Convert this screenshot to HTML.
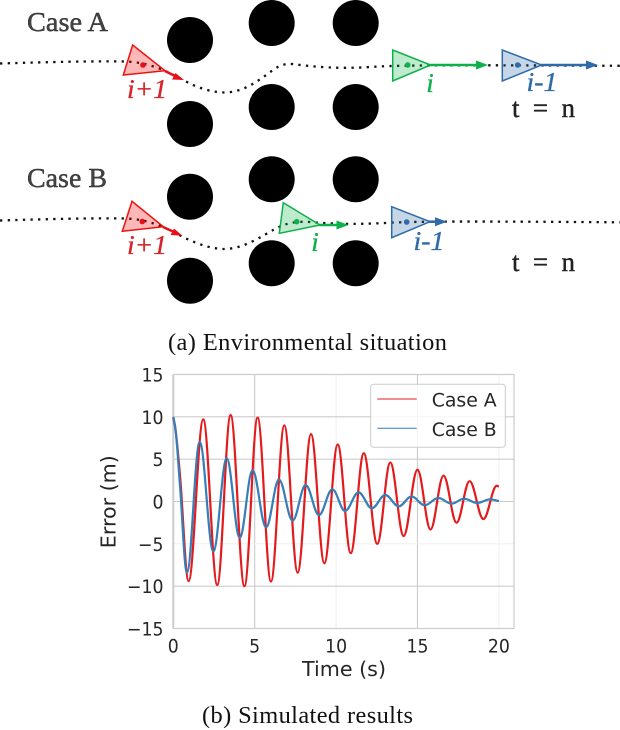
<!DOCTYPE html>
<html lang="en">
<head>
<meta charset="utf-8">
<title>Environmental situation and simulated results</title>
<style>
html,body{margin:0;padding:0;background:#fff;width:620px;height:730px;overflow:hidden}
svg{display:block;position:absolute;left:0;top:0}
.serif{font-family:"Liberation Serif",serif}
.sans{font-family:"DejaVu Sans",sans-serif}
.track{fill:none;stroke:#111;stroke-width:2.3;stroke-dasharray:2.3 5.3}
.label{font-family:"Liberation Serif",serif;font-style:italic;font-size:27px;text-anchor:middle;stroke-width:.35px}
.heading{fill:#444;stroke:#222;stroke-width:.4px}
</style>
</head>
<body>
<svg id="figure" width="620" height="730" viewBox="0 0 620 730" xmlns="http://www.w3.org/2000/svg">
  <g>
    <text class="serif heading" x="27" y="31" font-size="27" textLength="81" lengthAdjust="spacingAndGlyphs">Case A</text>
    <circle cx="190" cy="40" r="23"/>
    <circle cx="190" cy="124" r="23"/>
    <circle cx="271.7" cy="23" r="23"/>
    <circle cx="271.7" cy="107" r="23"/>
    <circle cx="355.7" cy="23" r="23"/>
    <circle cx="355.7" cy="107" r="23"/>
    <path class="track" d="M0 63.5C50 62 90 61 125 61.5C150 62 168 72 185 81C200 89 213 92.5 226 92.5C245 92 262 78 273 70C280 65 285 63.5 292 64C315 67 340 69 370 67C400 65 450 65 620 65.8"/>
    <g>
      <polygon points="132.7,45 123.3,75 165,70.7" fill="#f00" fill-opacity=".28" stroke="#f01010" stroke-width="1.5"/>
      <circle cx="143" cy="65" r="2.8" fill="#e8101a"/>
      <line x1="165" y1="71" x2="176" y2="76.5" stroke="#e8101a" stroke-width="2.5"/>
      <polygon points="184,80 172,79.5 175.5,73" fill="#e8101a"/>
      <text class="label" x="147" y="98" fill="#d8232a" stroke="#d8232a" textLength="40" lengthAdjust="spacingAndGlyphs">i+1</text>
    </g>
    <g>
      <polygon points="392.7,50 392.7,81 430.7,65" fill="#0db14b" fill-opacity=".27" stroke="#0db14b" stroke-width="1.5"/>
      <circle cx="407.7" cy="65" r="2.8" fill="#0db14b"/>
      <line x1="430" y1="65" x2="478" y2="65" stroke="#0db14b" stroke-width="2.6"/>
      <polygon points="488,65 476,60.5 476,69.5" fill="#0db14b"/>
      <text class="label" x="430" y="92" fill="#0db14b" stroke="#0db14b">i</text>
    </g>
    <g>
      <polygon points="502.3,50 502.3,81 541.7,65" fill="#2e6ba8" fill-opacity=".28" stroke="#2e6ba8" stroke-width="1.5"/>
      <circle cx="517.7" cy="65" r="2.8" fill="#2e6ba8"/>
      <line x1="541" y1="65" x2="588" y2="65" stroke="#2e6ba8" stroke-width="2.6"/>
      <polygon points="598,65 586,60.5 586,69.5" fill="#2e6ba8"/>
      <text class="label" x="542" y="91" fill="#2e6ba8" stroke="#2e6ba8" textLength="31" lengthAdjust="spacingAndGlyphs">i-1</text>
    </g>
    <text class="serif" x="512" y="117" font-size="27" fill="#222" stroke="#222" stroke-width=".4" textLength="63" lengthAdjust="spacing">t = n</text>
  </g>

  <g>
    <text class="serif heading" x="27" y="187" font-size="27" textLength="80" lengthAdjust="spacingAndGlyphs">Case B</text>
    <circle cx="190" cy="196.7" r="23"/>
    <circle cx="190" cy="280.7" r="23"/>
    <circle cx="271.7" cy="179.3" r="23"/>
    <circle cx="271.7" cy="263.3" r="23"/>
    <circle cx="355.7" cy="179.3" r="23"/>
    <circle cx="355.7" cy="263.3" r="23"/>
    <path class="track" d="M0 220.5C50 219 90 218 125 218.5C150 219 168 229 185 238C200 245 213 249.3 226 249C245 248 262 236 275 229C285 223.5 295 221 310 222C330 224 355 224.5 385 223C410 221.5 450 221 620 222.3"/>
    <g>
      <polygon points="132,201.3 122.3,231.3 163.3,226.7" fill="#f00" fill-opacity=".28" stroke="#f01010" stroke-width="1.5"/>
      <circle cx="142.3" cy="221.5" r="2.8" fill="#e8101a"/>
      <line x1="163" y1="227" x2="174" y2="232" stroke="#e8101a" stroke-width="2.5"/>
      <polygon points="182.5,235.8 170.5,235 174,228.5" fill="#e8101a"/>
      <text class="label" x="147" y="254" fill="#d8232a" stroke="#d8232a" textLength="40" lengthAdjust="spacingAndGlyphs">i+1</text>
    </g>
    <g>
      <polygon points="283.3,202.7 279.3,233.3 320,225" fill="#0db14b" fill-opacity=".27" stroke="#0db14b" stroke-width="1.5"/>
      <circle cx="296.7" cy="221.7" r="2.8" fill="#0db14b"/>
      <line x1="319" y1="225" x2="338" y2="225" stroke="#0db14b" stroke-width="2.6"/>
      <polygon points="348.5,225 336.5,220.5 336.5,229.5" fill="#0db14b"/>
      <text class="label" x="315" y="251" fill="#0db14b" stroke="#0db14b">i</text>
    </g>
    <g>
      <polygon points="391.7,206.7 391.7,237.7 430,221.7" fill="#2e6ba8" fill-opacity=".28" stroke="#2e6ba8" stroke-width="1.5"/>
      <circle cx="406.7" cy="222" r="2.8" fill="#2e6ba8"/>
      <line x1="429" y1="221.7" x2="438" y2="221.7" stroke="#2e6ba8" stroke-width="2.6"/>
      <polygon points="447,221.7 435,217.2 435,226.2" fill="#2e6ba8"/>
      <text class="label" x="429" y="250" fill="#2e6ba8" stroke="#2e6ba8" textLength="31" lengthAdjust="spacingAndGlyphs">i-1</text>
    </g>
    <text class="serif" x="512" y="271" font-size="27" fill="#222" stroke="#222" stroke-width=".4" textLength="63" lengthAdjust="spacing">t = n</text>
  </g>

  <text class="serif" x="168" y="350" font-size="24.4" fill="#111" textLength="279" lengthAdjust="spacing">(a) Environmental situation</text>
  <text class="serif" x="202" y="723" font-size="24.4" fill="#111" textLength="211" lengthAdjust="spacing">(b) Simulated results</text>

  <g id="chart"></g>
</svg>

<script>
const xTicks = [0, 5, 10, 15, 20];
const yTicks = [-15, -10, -5, 0, 5, 10, 15];
const xTickLabels = ['0', '5', '10', '15', '20'];
const yTickLabels = ['\u221215', '\u221210', '\u22125', '0', '5', '10', '15'];
const fadedXTicks = [10, 20];
const fadedYTicks = [-5];
const seriesNames = ['Case A', 'Case B'];
const caseATime = [0, 0.15, 0.41, 0.94, 1.84, 2.7, 3.52, 4.37, 5.18, 6.0, 6.82, 7.64, 8.46, 9.28, 10.1, 10.9, 11.7, 12.53, 13.33, 14.15, 15.0, 15.8, 16.6, 17.4, 18.2, 19.05, 19.87, 20];
const caseAError = [9.9, 8.3, 3.1, -9.4, 9.7, -9.85, 10.2, -10, 9.9, -9.45, 9.0, -8.4, 7.96, -7.3, 6.74, -6.1, 5.7, -5.0, 4.6, -4.07, 3.75, -3.3, 3.05, -2.5, 2.4, -2.07, 1.86, 1.75];
const caseBTime = [0, 0.15, 0.41, 0.84, 1.62, 2.46, 3.28, 4.08, 4.87, 5.7, 6.49, 7.33, 8.13, 8.95, 9.77, 10.55, 11.38, 12.2, 13.02, 13.85, 14.64, 15.44, 16.28, 17.1, 17.86, 18.68, 19.45, 20];
const caseBError = [10, 8.3, 1.9, -8.4, 7.05, -5.9, 5.1, -4.27, 3.67, -3.05, 2.6, -2.26, 1.95, -1.6, 1.44, -1.12, 1.08, -0.8, 0.77, -0.57, 0.6, -0.45, 0.41, -0.26, 0.33, -0.18, 0.26, 0.05];

const plotLeft = 173.3, plotRight = 514, plotTop = 374.5, plotBottom = 628.5;
const xDomainMax = 20.93, yDomainMax = 15, yDomainMin = -15;
const xScale = t => plotLeft + (t / xDomainMax) * (plotRight - plotLeft);
const yScale = v => plotBottom - ((v - yDomainMin) / (yDomainMax - yDomainMin)) * (plotBottom - plotTop);

const svgNS = 'http://www.w3.org/2000/svg';
const chart = document.getElementById('chart');
function make(tag, attrs, parent, text) {
  const el = document.createElementNS(svgNS, tag);
  for (const k in attrs) el.setAttribute(k, attrs[k]);
  if (text !== undefined) el.textContent = text;
  (parent || chart).appendChild(el);
  return el;
}
function squeeze(el, ratio) {
  el.setAttribute('textLength', (el.getComputedTextLength() * ratio).toFixed(2));
  el.setAttribute('lengthAdjust', 'spacingAndGlyphs');
}
function curvePath(ts, vs) {
  const n = ts.length, px = ts.map(xScale), py = vs.map(yScale), slope = [];
  for (let i = 0; i < n; i++) {
    if (i === 0) slope.push((py[1] - py[0]) / (px[1] - px[0]));
    else if (i === n - 1) slope.push((py[i] - py[i - 1]) / (px[i] - px[i - 1]));
    else {
      const a = (py[i] - py[i - 1]) / (px[i] - px[i - 1]);
      const b = (py[i + 1] - py[i]) / (px[i + 1] - px[i]);
      slope.push(a * b <= 0 ? 0 : (a + b) / 2);
    }
  }
  let d = 'M' + px[0].toFixed(2) + ' ' + py[0].toFixed(2);
  for (let i = 1; i < n; i++) {
    const h = (px[i] - px[i - 1]) * 0.3642;
    d += 'C' + (px[i - 1] + h).toFixed(2) + ' ' + (py[i - 1] + slope[i - 1] * h).toFixed(2) + ' ' +
      (px[i] - h).toFixed(2) + ' ' + (py[i] - slope[i] * h).toFixed(2) + ' ' +
      px[i].toFixed(2) + ' ' + py[i].toFixed(2);
  }
  return d;
}

xTicks.forEach((t, i) => {
  const line = make('line', {x1: xScale(t), x2: xScale(t), y1: plotTop, y2: plotBottom, stroke: fadedXTicks.includes(t) ? '#f1f1f1' : '#cccccc', 'stroke-width': 1.1});
  
  
  const label = make('text', {x: xScale(t), y: 652.5, 'text-anchor': 'middle', 'font-size': 18.6, fill: '#262626', class: 'sans'}, chart, xTickLabels[i]);
  
  
  squeeze(label, 0.93);
});
yTicks.forEach((v, i) => {
  const line = make('line', {x1: plotLeft, x2: plotRight, y1: yScale(v), y2: yScale(v), stroke: fadedYTicks.includes(v) ? '#f1f1f1' : '#cccccc', 'stroke-width': 1.1});
  
  
  const label = make('text', {x: 163.5, y: yScale(v) + 7, 'text-anchor': 'end', 'font-size': 18.6, fill: '#262626', class: 'sans'}, chart, yTickLabels[i]);
  
  
  squeeze(label, 0.93);
});

const frame = make('rect', {x: plotLeft, y: plotTop, width: plotRight - plotLeft, height: plotBottom - plotTop, fill: 'none', stroke: '#cccccc', 'stroke-width': 1.2});


const leftSpine = make('line', {x1: plotLeft, x2: plotLeft, y1: plotTop, y2: plotBottom, stroke: '#cccccc', 'stroke-width': 2});



const lineA = make('path', {d: curvePath(caseATime, caseAError), fill: 'none', stroke: '#e41a1c', 'stroke-width': 2.2});


const lineB = make('path', {d: curvePath(caseBTime, caseBError), fill: 'none', stroke: '#377eb8', 'stroke-width': 2.2});



const xTitle = make('text', {x: 344, y: 676, 'text-anchor': 'middle', 'font-size': 20, fill: '#262626', class: 'sans', textLength: 84, lengthAdjust: 'spacingAndGlyphs'}, chart, 'Time (s)');


const yTitle = make('text', {x: 0, y: 0, transform: 'translate(115.5 501.7) rotate(-90)', 'text-anchor': 'middle', 'font-size': 20, fill: '#262626', class: 'sans', textLength: 93, lengthAdjust: 'spacingAndGlyphs'}, chart, 'Error (m)');



const legend = make('g', {});


const legendBox = make('rect', {x: 370.7, y: 384.3, width: 134.6, height: 63, rx: 3, fill: '#fff', 'fill-opacity': 0.8, stroke: '#cccccc', 'stroke-width': 1}, legend);


const legendColors = ['#e41a1c', '#377eb8'];
seriesNames.forEach((name, i) => {
  const ly = 399 + i * 29.3;
  const swatch = make('line', {x1: 377.3, x2: 416.7, y1: ly, y2: ly, stroke: legendColors[i], 'stroke-width': 1}, legend);
  
  
  const entry = make('text', {x: 431.7, y: ly + 7.6, 'font-size': 19, fill: '#262626', class: 'sans', textLength: 65, lengthAdjust: 'spacingAndGlyphs'}, legend, name);
  
  
});
</script>
</body>
</html>
